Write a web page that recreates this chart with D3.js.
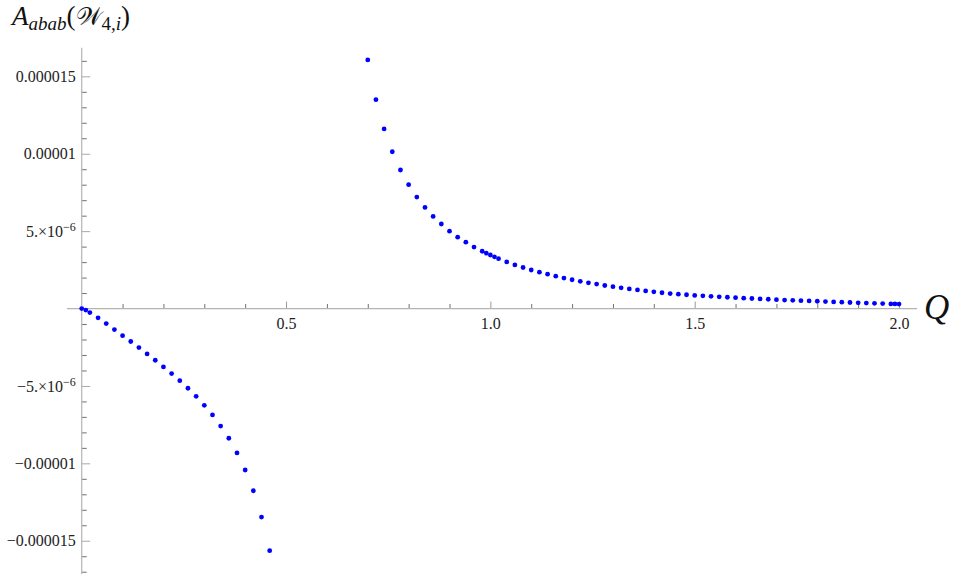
<!DOCTYPE html>
<html>
<head>
<meta charset="utf-8">
<script src="https://cdn.jsdelivr.net/npm/d3@7"></script>
<style>
  html, body { margin: 0; padding: 0; background: #fff; }
  svg { display: block; }
</style>
</head>
<body>
<svg id="chart" width="953" height="574"></svg>
<script>
// ---- data (values of A in units of 1e-6) ----
const qLeft = [0, 0.01, 0.02, 0.04, 0.06, 0.08, 0.10, 0.12, 0.14, 0.16, 0.18, 0.20, 0.22,
  0.24, 0.26, 0.28, 0.30, 0.32, 0.34, 0.36, 0.38, 0.40, 0.42, 0.44, 0.46];
const aLeft = [0, -0.10, -0.26, -0.60, -0.97, -1.36, -1.75, -2.13, -2.52, -2.93, -3.34, -3.77, -4.20,
  -4.66, -5.15, -5.67, -6.25, -6.87, -7.59, -8.38, -9.33, -10.43, -11.77, -13.47, -15.64];

const qRight = [0.70, 0.72, 0.74, 0.76, 0.78, 0.80, 0.82, 0.84, 0.86, 0.88, 0.90, 0.92, 0.94, 0.96,
  0.98, 0.99, 1.00, 1.01, 1.02, 1.04, 1.06, 1.08, 1.10, 1.12, 1.14, 1.16, 1.18, 1.20, 1.22, 1.24,
  1.26, 1.28, 1.30, 1.32, 1.34, 1.36, 1.38, 1.40, 1.42, 1.44, 1.46, 1.48, 1.50, 1.52, 1.54, 1.56,
  1.58, 1.60, 1.62, 1.64, 1.66, 1.68, 1.70, 1.72, 1.74, 1.76, 1.78, 1.80, 1.82, 1.84, 1.86, 1.88,
  1.90, 1.92, 1.94, 1.96, 1.98, 1.99, 2.00];
const aRight = [16.06, 13.49, 11.60, 10.13, 8.95, 8.00, 7.20, 6.53, 5.95, 5.46, 5.00, 4.61, 4.29, 3.97,
  3.70, 3.58, 3.46, 3.34, 3.22, 3.01, 2.82, 2.65, 2.49, 2.35, 2.22, 2.09, 1.97, 1.86, 1.76, 1.66,
  1.58, 1.49, 1.41, 1.34, 1.27, 1.20, 1.14, 1.08, 1.02, 0.97, 0.93, 0.89, 0.85, 0.82, 0.79, 0.76,
  0.73, 0.70, 0.67, 0.65, 0.62, 0.60, 0.57, 0.55, 0.53, 0.51, 0.49, 0.47, 0.45, 0.43, 0.41, 0.39,
  0.37, 0.35, 0.34, 0.32, 0.30, 0.295, 0.29];

const xMajorTicks = [0.5, 1.0, 1.5, 2.0];
const xMajorLabels = ["0.5", "1.0", "1.5", "2.0"];
const xMinorTicks = [0.1, 0.2, 0.3, 0.4, 0.6, 0.7, 0.8, 0.9, 1.1, 1.2, 1.3, 1.4, 1.6, 1.7, 1.8, 1.9];

const yMajorTicks = [-15, -10, -5, 5, 10, 15];           // in 1e-6
const yMajorLabels = ["\u22120.000015", "\u22120.00001", "\u22125.\u00d710^\u22126",
                      "5.\u00d710^\u22126", "0.00001", "0.000015"];
const yMinorTicks = [-17, -16, -14, -13, -12, -11, -9, -8, -7, -6, -4, -3, -2, -1,
                     1, 2, 3, 4, 6, 7, 8, 9, 11, 12, 13, 14, 16];

// ---- scales ----
const x = d3.scaleLinear().domain([-0.036, 2.044]).range([67, 917]);
const y = d3.scaleLinear().domain([-17.2, 16.85]).range([574.8, 47.7]);

const svg = d3.select("#chart");
const serif = "Liberation Serif, DejaVu Serif, serif";
const axisColor = "#b4b4b4";
const tickColor = "#707070";

function styleText(g) {
  g.attr("font-family", serif).attr("font-size", 16);
  g.selectAll("text").attr("font-family", serif).attr("font-size", 16).attr("fill", "#222");
}

// ---- x axis ----
const gx = svg.append("g").attr("transform", `translate(0,${y(0)})`);
gx.append("g")
  .call(d3.axisBottom(x).tickValues(xMinorTicks).tickSize(-4.5).tickFormat(""))
  .call(g => g.select(".domain").remove())
  .call(g => g.selectAll("line").attr("stroke", tickColor));
gx.append("g")
  .call(d3.axisBottom(x).tickValues(xMajorTicks).tickSize(-7).tickPadding(9)
        .tickFormat((d, i) => xMajorLabels[i]))
  .call(g => g.select(".domain").remove())
  .call(g => g.selectAll("line").attr("stroke", "#9a9a9a"))
  .call(styleText);
gx.append("line").attr("x1", x.range()[0]).attr("x2", x.range()[1])
  .attr("stroke", axisColor).attr("stroke-width", 1.2);

// ---- y axis ----
const gy = svg.append("g").attr("transform", `translate(${x(0)},0)`);
gy.append("g")
  .call(d3.axisLeft(y).tickValues(yMinorTicks).tickSize(-5).tickFormat(""))
  .call(g => g.select(".domain").remove())
  .call(g => g.selectAll("line").attr("stroke", tickColor));
gy.append("g")
  .call(d3.axisLeft(y).tickValues(yMajorTicks).tickSize(-8.5).tickPadding(6)
        .tickFormat((d, i) => yMajorLabels[i]))
  .call(g => g.select(".domain").remove())
  .call(g => g.selectAll("line").attr("stroke", "#a8a8a8"))
  .call(styleText)
  .call(g => g.selectAll("text").each(function () {
    const t = d3.select(this);
    const s = t.text();
    if (s.includes("^")) {
      const [base, exp] = s.split("^");
      t.text(null);
      t.append("tspan").text(base);
      t.append("tspan").attr("dy", "-0.45em").attr("font-size", "12px").text(exp);
    }
  }));
gy.append("line").attr("y1", y.range()[0]).attr("y2", y.range()[1])
  .attr("stroke", axisColor).attr("stroke-width", 1.2);

// ---- points ----
const pts = qLeft.map((q, i) => [q, aLeft[i]]).concat(qRight.map((q, i) => [q, aRight[i]]));
svg.append("g").selectAll("circle").data(pts).join("circle")
  .attr("cx", d => x(d[0])).attr("cy", d => y(d[1]))
  .attr("r", 2.4).attr("fill", "#0000ff");

// ---- axis titles ----
const title = svg.append("text").attr("x", 12).attr("y", 25)
  .attr("font-family", serif).attr("font-size", 27).attr("fill", "#111");
title.append("tspan").attr("font-style", "italic").text("A");
title.append("tspan").attr("font-style", "italic").attr("font-size", 19).attr("dy", 5).text("abab");
title.append("tspan").attr("dy", -5).text("(");
title.append("tspan").attr("font-family", "DejaVu Serif, DejaVu Sans, serif").attr("font-size", 25).text("\u{1D4B2}");
title.append("tspan").attr("font-size", 19).attr("dy", 5).text("4,");
title.append("tspan").attr("font-size", 19).attr("font-style", "italic").text("i");
title.append("tspan").attr("dy", -5).text(")");

svg.append("text").attr("x", 924).attr("y", 319)
  .attr("font-family", serif).attr("font-style", "italic").attr("font-size", 35)
  .attr("fill", "#111").text("Q");
</script>
</body>
</html>
